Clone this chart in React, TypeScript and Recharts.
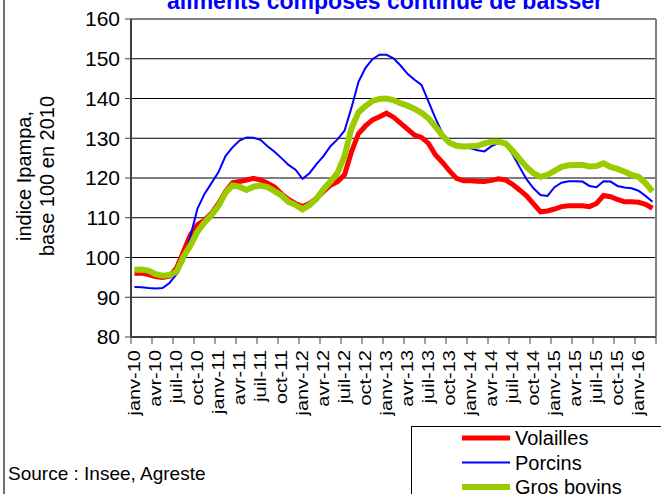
import { LineChart, Line, XAxis, YAxis, CartesianGrid, ReferenceLine } from "recharts";

const months = [
  "janv-10", "févr-10", "mars-10", "avr-10", "mai-10", "juin-10", "juil-10", "août-10", "sept-10", "oct-10", "nov-10", "déc-10",
  "janv-11", "févr-11", "mars-11", "avr-11", "mai-11", "juin-11", "juil-11", "août-11", "sept-11", "oct-11", "nov-11", "déc-11",
  "janv-12", "févr-12", "mars-12", "avr-12", "mai-12", "juin-12", "juil-12", "août-12", "sept-12", "oct-12", "nov-12", "déc-12",
  "janv-13", "févr-13", "mars-13", "avr-13", "mai-13", "juin-13", "juil-13", "août-13", "sept-13", "oct-13", "nov-13", "déc-13",
  "janv-14", "févr-14", "mars-14", "avr-14", "mai-14", "juin-14", "juil-14", "août-14", "sept-14", "oct-14", "nov-14", "déc-14",
  "janv-15", "févr-15", "mars-15", "avr-15", "mai-15", "juin-15", "juil-15", "août-15", "sept-15", "oct-15", "nov-15", "déc-15",
  "janv-16", "févr-16", "mars-16",
];

const volailles = [
  96.0, 96.1, 95.7, 95.2, 95.0, 95.3, 97.3, 101.5, 105.7, 108.2, 109.4, 111.1,
  113.6, 116.6, 118.8, 119.1, 119.5, 119.9, 119.5, 118.7, 117.7, 116.0, 114.6, 113.6,
  112.8, 113.6, 114.9, 116.6, 118.2, 119.1, 120.8, 126.6, 131.2, 133.1, 134.6, 135.4,
  136.3, 135.3, 133.8, 132.3, 130.8, 130.2, 128.7, 125.8, 123.9, 121.8, 119.9, 119.3,
  119.3, 119.2, 119.1, 119.4, 119.8, 119.5, 118.4, 117.0, 115.5, 113.5, 111.5, 111.7,
  112.2, 112.8, 113.0, 113.0, 113.0, 112.8, 113.6, 115.6, 115.3, 114.6, 114.0, 114.0,
  113.9, 113.4, 112.4,
];

const porcins = [
  92.6, 92.5, 92.3, 92.2, 92.3, 93.6, 95.8, 99.0, 105.5, 112.3, 116.0, 118.7,
  121.5, 125.5, 127.7, 129.4, 130.2, 130.1, 129.6, 128.0, 126.6, 125.0, 123.3, 122.1,
  119.8, 121.2, 123.5, 125.5, 128.0, 129.7, 131.9, 137.7, 144.2, 147.7, 149.9, 151.0,
  151.0, 150.1, 148.3, 146.2, 144.7, 143.4, 139.2, 135.0, 131.2, 129.1, 128.1, 127.7,
  127.5, 127.0, 126.7, 128.0, 128.8, 128.5, 126.0, 122.8, 119.7, 117.4, 115.7, 115.5,
  117.7, 118.8, 119.2, 119.2, 119.1, 118.0, 117.7, 119.2, 119.1, 118.0, 117.6, 117.4,
  116.8, 115.5, 114.0,
];

const grosBovins = [
  96.9, 97.0, 96.7, 95.8, 95.4, 95.6, 96.4, 100.2, 103.1, 106.5, 108.8, 110.7,
  113.0, 116.3, 118.1, 117.8, 117.0, 117.8, 118.1, 117.7, 116.7, 115.6, 114.0, 113.2,
  112.1, 113.2, 114.8, 117.2, 119.1, 121.3, 125.5, 132.5, 136.5, 138.1, 139.4, 139.9,
  140.0, 139.6, 138.8, 138.2, 137.4, 136.4, 135.0, 132.9, 130.6, 128.9, 128.1, 127.9,
  128.0, 128.1, 128.7, 129.1, 129.1, 128.7, 126.9, 124.8, 122.8, 121.2, 120.3, 120.8,
  121.8, 122.8, 123.2, 123.3, 123.3, 122.9, 123.0, 123.7, 122.8, 122.3, 121.6, 120.8,
  120.3, 118.7, 116.6,
];

const tickLabels = [
  "janv-10", "avr-10", "juil-10", "oct-10", "janv-11", "avr-11", "juil-11", "oct-11",
  "janv-12", "avr-12", "juil-12", "oct-12", "janv-13", "avr-13", "juil-13", "oct-13",
  "janv-14", "avr-14", "juil-14", "oct-14", "janv-15", "avr-15", "juil-15", "oct-15", "janv-16",
];

const yTicks = [80, 90, 100, 110, 120, 130, 140, 150, 160];

const seriesNames = ["Volailles", "Porcins", "Gros bovins"];
const seriesColors = ["#FF0000", "#0000FF", "#99CC00"];
const seriesWidths = [5, 2, 6];

const data = months.map((m, i) => ({
  i,
  month: m,
  volailles: volailles[i],
  porcins: porcins[i],
  grosBovins: grosBovins[i],
}));

const W = 661;
const H = 494;
const plotLeft = 131;
const plotRight = 656;
const halfStep = (plotRight - plotLeft) / months.length / 2;
// tick marks sit between months, every quarter
const xTicks = tickLabels.map((_, k) => k * 3 - 0.5).concat([months.length - 0.5]);

const FONT = "'Liberation Sans', Arial, sans-serif";

function MonthTick(props: any) {
  const { x, y, payload } = props;
  const k = Math.round((payload.value + 0.5) / 3);
  const label = tickLabels[k];
  if (!label) return null;
  return (
    <text
      transform={`translate(${x + halfStep},${y}) rotate(-90) scale(1,0.85)`}
      textAnchor="end"
      dy="0.35em"
      fontSize={20}
      fill="#000"
      fontFamily={FONT}
    >
      {label}
    </text>
  );
}

export default function App() {
  return (
    <div style={{ position: "absolute", left: 0, top: 0, width: W, height: H, background: "#fff", overflow: "hidden", fontFamily: FONT }}>
      <LineChart width={W} height={H} data={data} margin={{ top: 19, right: W - plotRight, bottom: 67, left: plotLeft - 60 }}>
        <CartesianGrid vertical={false} stroke="#000" strokeWidth={1} />
        <XAxis
          dataKey="i"
          type="number"
          domain={[-0.5, months.length - 0.5]}
          ticks={xTicks}
          interval={0}
          height={90}
          tickSize={7}
          tickMargin={6}
          tick={<MonthTick />}
          axisLine={{ stroke: "#404040", strokeWidth: 2 }}
          tickLine={{ stroke: "#404040" }}
        />
        <YAxis
          domain={[80, 160]}
          ticks={yTicks}
          interval={0}
          width={60}
          tickSize={6}
          tickMargin={5}
          tick={{ fill: "#000", fontSize: 21, fontFamily: FONT }}
          axisLine={{ stroke: "#404040", strokeWidth: 2 }}
          tickLine={{ stroke: "#404040" }}
        />
        <ReferenceLine y={160} stroke="#808080" strokeWidth={2} />
        <ReferenceLine x={months.length - 0.5} stroke="#808080" strokeWidth={2} />
        <Line dataKey="volailles" name={seriesNames[0]} stroke={seriesColors[0]} strokeWidth={seriesWidths[0]} dot={false} isAnimationActive={false} />
        <Line dataKey="porcins" name={seriesNames[1]} stroke={seriesColors[1]} strokeWidth={seriesWidths[1]} dot={false} isAnimationActive={false} />
        <Line dataKey="grosBovins" name={seriesNames[2]} stroke={seriesColors[2]} strokeWidth={seriesWidths[2]} dot={false} isAnimationActive={false} />
      </LineChart>
      <svg width={W} height={H} style={{ position: "absolute", left: 0, top: 0, pointerEvents: "none" }}>
        <line x1={4} y1={0} x2={4} y2={H} stroke="#404040" strokeWidth={1.5} />
        <text x={385} y={9} textAnchor="middle" fontSize={23} fontWeight="bold" fill="#0000FF" fontFamily={FONT}>
          aliments composés continue de baisser
        </text>
        <text transform="translate(31,176) rotate(-90)" textAnchor="middle" fontSize={20} fill="#000" fontFamily={FONT}>
          indice Ipampa,
        </text>
        <text transform="translate(54,176) rotate(-90)" textAnchor="middle" fontSize={20} fill="#000" fontFamily={FONT}>
          base 100 en 2010
        </text>
        <text x={8} y={480} fontSize={19} fill="#000" fontFamily={FONT}>
          Source : Insee, Agreste
        </text>
        <rect x={411.5} y={426.5} width={260} height={80} fill="#fff" stroke="#000" strokeWidth={1} />
        {seriesNames.map((name, k) => (
          <g key={name}>
            <line x1={462} x2={510} y1={438 + k * 24.5} y2={438 + k * 24.5} stroke={seriesColors[k]} strokeWidth={seriesWidths[k]} />
            <text x={515} y={438 + k * 24.5} dy="0.35em" fontSize={20} fill="#000" fontFamily={FONT}>
              {name}
            </text>
          </g>
        ))}
      </svg>
    </div>
  );
}
